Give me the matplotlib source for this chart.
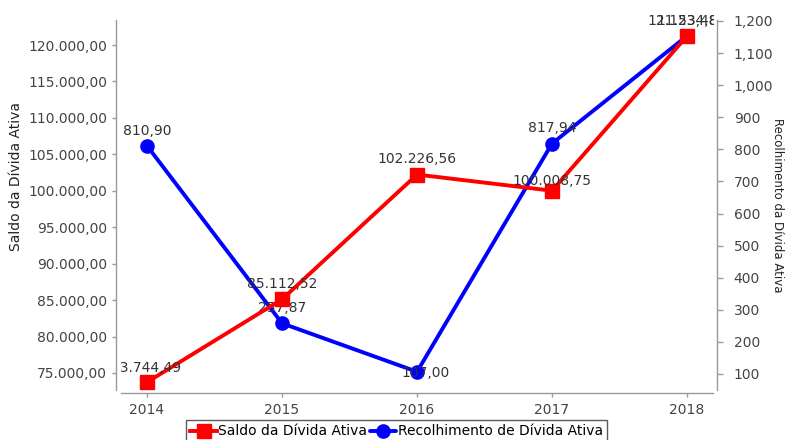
import matplotlib
matplotlib.use("Agg")
import matplotlib.pyplot as plt
from matplotlib.ticker import FuncFormatter, FixedLocator
from matplotlib.transforms import Bbox, TransformedBbox

years = [2014, 2015, 2016, 2017, 2018]
saldo = [73744.49, 85112.52, 102226.56, 100008.75, 121234.88]
recolhimento = [810.90, 257.87, 107.00, 817.94, 1153.48]
left_ticks = [75000, 80000, 85000, 90000, 95000, 100000, 105000, 110000, 115000, 120000]
right_ticks = [100, 200, 300, 400, 500, 600, 700, 800, 900, 1000, 1100, 1200]

plt.rcParams['font.family'] = ['DejaVu Sans']

def br(v, dec=2):
    s = f"{v:,.{dec}f}"
    return s.replace(",", "X").replace(".", ",").replace("X", ".")

fig = plt.figure(figsize=(7.87, 4.40), dpi=100)
W, H = 787, 440
ax1 = fig.add_axes([116 / W, 1 - 390 / H, (717 - 116) / W, (390 - 20) / H])
ax2 = ax1.twinx()
ax1.set_zorder(2)
ax1.patch.set_visible(False)

gray = '#9a9a9a'
tc = '#444444'

l2, = ax2.plot(years, recolhimento, color='#0000ff', lw=2.8, marker='o', ms=9.5,
               solid_capstyle='round', label='Recolhimento de Dívida Ativa')
l1, = ax1.plot(years, saldo, color='#ff0000', lw=2.8, marker='s', ms=10,
               label='Saldo da Dívida Ativa')

clipbox = TransformedBbox(Bbox([[121 / W, 0.0], [714 / W, 1.0]]), fig.transFigure)

red_off = [(0, 5), (0, 6), (0, 6), (0, 2), (0, 6)]
blue_off = [(0, 6), (0, 6), (6, -6), (0, 6), (0, 6)]
for (x, v), off in zip(zip(years, saldo), red_off):
    t = ax1.annotate(br(v), (x, v), xytext=off, textcoords='offset points',
                     ha='center', va='bottom', fontsize=10, color='#333333')
    t.set_clip_box(clipbox)
    t.set_clip_on(True)
for (x, v), off in zip(zip(years, recolhimento), blue_off):
    t = ax2.annotate(br(v), (x, v), xytext=off, textcoords='offset points',
                     ha='center', va='bottom', fontsize=10, color='#333333')
    t.set_clip_box(clipbox)
    t.set_clip_on(True)

ax1.set_xlim(2013.77, 2018.222)
ax1.set_ylim(72667, 123430)
ax2.set_ylim(50.1, 1203)

ax1.yaxis.set_major_locator(FixedLocator(left_ticks))
ax1.yaxis.set_major_formatter(FuncFormatter(lambda v, p: br(v)))
ax2.yaxis.set_major_locator(FixedLocator(right_ticks))
ax2.yaxis.set_major_formatter(FuncFormatter(lambda v, p: f"{v:,.0f}"))
ax1.set_xticks(years)
ax1.set_xticklabels([str(y) for y in years])

for ax in (ax1, ax2):
    ax.spines['top'].set_visible(False)
    for s in ax.spines.values():
        s.set_color(gray)
        s.set_linewidth(1.0)
ax2.spines['left'].set_visible(False)
ax2.spines['bottom'].set_visible(False)
ax1.spines['right'].set_visible(False)
ax1.spines['bottom'].set_position(('outward', 2.2))
ax1.spines['bottom'].set_bounds(2013.81, 2018.19)

ax1.tick_params(axis='both', colors=gray, labelcolor=tc, labelsize=10, length=3, width=1)
ax1.tick_params(axis='x', pad=4)
ax2.tick_params(axis='y', colors=gray, labelcolor=tc, labelsize=10, length=4, width=1, pad=8)

ax1.set_ylabel('Saldo da Dívida Ativa', fontsize=10, color='#222222')
ax1.yaxis.set_label_coords(-0.155, 0.576)
ax2.set_ylabel('Recolhimento da Dívida Ativa', fontsize=8.5, color='#222222',
               rotation=-90, labelpad=8)

leg = fig.legend(handles=[l1, l2], loc='upper center', bbox_to_anchor=(0.504, 0.045),
                 ncol=2, fontsize=10, frameon=True, fancybox=False, handlelength=1.9,
                 handletextpad=0.1, columnspacing=0.2, borderpad=0.3,
                 borderaxespad=0)
leg.get_frame().set_edgecolor('#333333')
leg.get_frame().set_linewidth(1.0)

fig.savefig('out.png', dpi=100)
